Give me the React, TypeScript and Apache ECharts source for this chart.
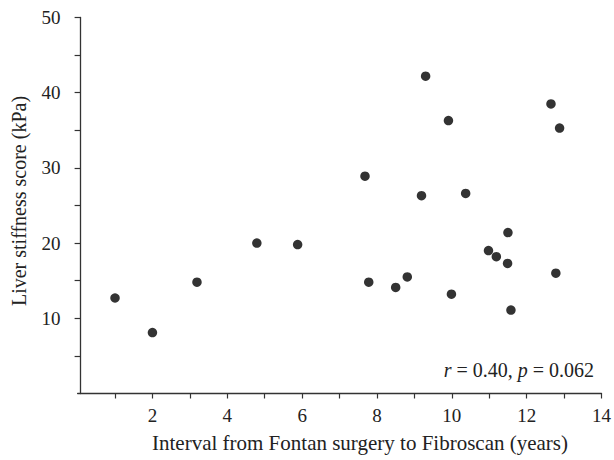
import React, { useEffect, useRef } from "react";
import * as echarts from "echarts";

const xValues = [1.0, 2.0, 3.19, 4.79, 5.88, 7.68, 7.78, 8.5, 8.81, 9.19, 9.3, 9.91, 9.99, 10.37, 10.98, 11.19, 11.49, 11.5, 11.58, 12.65, 12.78, 12.88];
const yValues = [12.7, 8.1, 14.8, 20.0, 19.8, 28.9, 14.8, 14.1, 15.5, 26.3, 42.2, 36.3, 13.2, 26.6, 19.0, 18.2, 17.3, 21.4, 11.1, 38.5, 16.0, 35.3];
const xTickLabels = [2, 4, 6, 8, 10, 12, 14];
const xTicks = [1, 2, 3, 4, 5, 6, 7, 8, 9, 10, 11, 12, 13, 14];
const yTickLabels = [10, 20, 30, 40, 50];
const yTicks = [5, 10, 15, 20, 25, 30, 35, 40, 45, 50];
const xName = "Interval from Fontan surgery to Fibroscan (years)";
const yName = "Liver stiffness score (kPa)";

const FONT = "'Liberation Serif', 'DejaVu Serif', serif";
const AXIS_COLOR = "#333";

export default function App() {
  const ref = useRef<HTMLDivElement>(null);
  useEffect(() => {
    if (!ref.current) return;
    const chart = echarts.init(ref.current, undefined, { renderer: "svg" });
    const data = xValues.map((x, i) => [x, yValues[i]]);
    chart.setOption({
      animation: false,
      grid: { left: 77.6, right: 10, top: 17.5, bottom: 66.5, containLabel: false },
      xAxis: {
        type: "value",
        min: 0,
        max: 14,
        interval: 1,
        splitLine: { show: false },
        axisLine: { show: true, lineStyle: { color: AXIS_COLOR, width: 1.3 } },
        axisTick: { show: true, length: 5, customValues: xTicks, lineStyle: { color: AXIS_COLOR, width: 1.2 } },
        axisLabel: {
          customValues: xTickLabels,
          fontFamily: FONT,
          fontSize: 19,
          color: "#222",
          margin: 12,
        },
      },
      yAxis: {
        type: "value",
        min: 0,
        max: 50,
        interval: 5,
        offset: -3,
        splitLine: { show: false },
        axisLine: { show: true, lineStyle: { color: AXIS_COLOR, width: 1.3 } },
        axisTick: { show: true, length: 6, customValues: yTicks, lineStyle: { color: AXIS_COLOR, width: 1.2 } },
        axisLabel: {
          customValues: yTickLabels,
          fontFamily: FONT,
          fontSize: 19,
          color: "#222",
          margin: 20,
        },
      },
      series: [
        {
          type: "scatter",
          data,
          symbol: "circle",
          symbolSize: 9.5,
          itemStyle: { color: "#000" },
        },
      ],
      graphic: [
        {
          type: "text",
          x: 360,
          y: 443,
          style: {
            text: xName,
            font: `21px ${FONT}`,
            fill: "#222",
            textAlign: "center",
            textVerticalAlign: "middle",
          },
        },
        {
          type: "text",
          x: 19,
          y: 201,
          rotation: Math.PI / 2,
          style: {
            text: yName,
            font: `20px ${FONT}`,
            fill: "#222",
            textAlign: "center",
            textVerticalAlign: "middle",
          },
        },
        {
          type: "text",
          x: 594,
          y: 370,
          style: {
            text: "{i|r} = 0.40, {i|p} = 0.062",
            font: `20px ${FONT}`,
            fill: "#222",
            textAlign: "right",
            textVerticalAlign: "middle",
            rich: {
              i: { fontStyle: "italic", fontFamily: FONT, fontSize: 20, fill: "#222" },
            },
          },
        },
      ],
    });
    return () => chart.dispose();
  }, []);
  return (
    <div
      ref={ref}
      style={{ position: "absolute", left: 0, top: 0, width: 614, height: 460 }}
    />
  );
}
